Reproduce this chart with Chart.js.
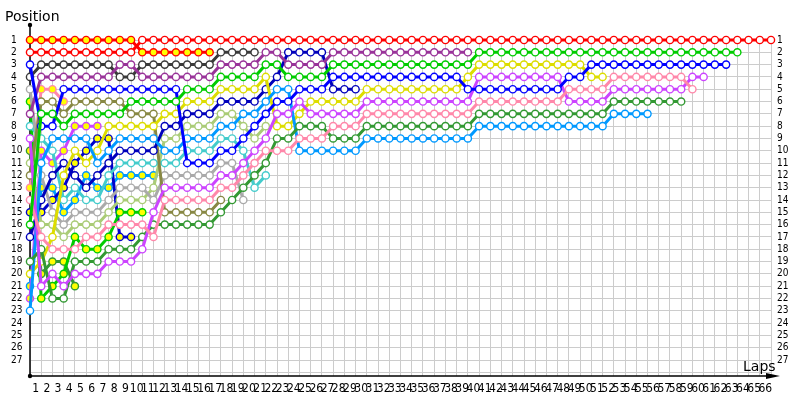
<!DOCTYPE html>
<html>
<head>
<meta charset="utf-8">
<script src="https://cdn.jsdelivr.net/npm/chart.js@4/dist/chart.umd.min.js"></script>
<style>
  html, body { margin: 0; padding: 0; background: #fff; }
  #wrap { width: 800px; height: 400px; }
</style>
</head>
<body>
<div id="wrap"><canvas id="lapChart" width="800" height="400"></canvas></div>
<script>
// ==============================
// Data: position per lap (index 0 = starting grid)
// ==============================

const lapLabels = [
    "1","2","3","4","5","6","7","8","9","10",
    "11","12","13","14","15","16","17","18","19","20",
    "21","22","23","24","25","26","27","28","29","30",
    "31","32","33","34","35","36","37","38","39","40",
    "41","42","43","44","45","46","47","48","49","50",
    "51","52","53","54","55","56","57","58","59","60",
    "61","62","63","64","65","66"
];

const positionLabels = [
    "1","2","3","4","5","6","7","8","9","10",
    "11","12","13","14","15","16","17","18","19","20",
    "21","22","23","24","25","26","27"
];

const red1 = [
    2,2,2,2,2,2,2,2,2,2,
    1,1,1,1,1,1,1,1,1,1,
    1,1,1,1,1,1,1,1,1,1,
    1,1,1,1,1,1,1,1,1,1,
    1,1,1,1,1,1,1,1,1,1,
    1,1,1,1,1,1,1,1,1,1,
    1,1,1,1,1,1,1
];
const red2 = [1,1,1,1,1,1,1,1,1,1, 2,2,2,2,2,2,2];

const darkGray = [4,3,3,3,3,3,3,3,4,4, 3,3,3,3,3,3,3,2,2,2, 2];

const purple = [
    7,4,4,4,4,4,4,4,3,3,
    4,4,4,4,4,4,4,3,3,3,
    3,2,2,3,3,3,3,2,2,2,
    2,2,2,2,2,2,2,2,2,2
];

const green1 = [
    16,7,7,8,7,7,7,7,7,6,
    6,6,6,6,5,5,5,4,4,4,
    4,3,3,4,4,4,4,3,3,3,
    3,3,3,3,3,3,3,3,3,3,
    2,2,2,2,2,2,2,2,2,2,
    2,2,2,2,2,2,2,2,2,2,
    2,2,2,2
];
const green2 = [6,22,21,20,17,18,18,17,15,15,15];

const blue1 = [
    3,8,8,5,5,5,5,5,5,5,
    5,5,5,5,11,11,11,10,10,9,
    8,7,6,6,5,5,5,4,4,4,
    4,4,4,4,4,4,4,4,4,5,
    5,5,5,5,5,5,5,5,4,4,
    3,3,3,3,3,3,3,3,3,3,
    3,3,3
];
const blue2 = [15,15,14,13,11,10,9,9,17,17];

const navy = [
    17,14,12,11,12,13,12,11,10,10,
    10,10,8,8,7,7,7,6,6,6,
    6,5,4,2,2,2,2,5,5,5
];

const yellow1 = [
    20,19,17,12,10,11,10,8,8,8,
    8,8,7,7,6,6,6,5,5,5,
    5,4,8,8,7,6,6,6,6,6,
    5,5,5,5,5,5,5,5,5,4,
    3,3,3,3,3,3,3,3,3,3,
    4,4
];

const magenta1 = [
    9,21,20,21,20,20,20,19,19,19,
    18,15,13,13,13,13,13,12,12,11,
    10,9,7,7,6,7,7,7,7,7,
    6,6,6,6,6,6,6,6,6,6,
    4,4,4,4,4,4,4,4,6,6,
    6,6,5,5,5,5,5,5,5,4,
    4
];
const magenta2 = [22,10,11,10,8,8,8];

const pink1 = [
    14,17,18,18,18,17,17,16,16,16,
    16,17,14,14,14,14,14,13,13,12,
    11,10,10,10,9,9,9,8,8,8,
    7,7,7,7,7,7,7,7,7,7,
    6,6,6,6,6,6,6,6,5,5,
    5,5,4,4,4,4,4,4,4,5
];
const pink2 = [13,5,5,6];

const darkGreen1 = [
    19,18,22,22,19,19,19,18,18,18,
    17,16,16,16,16,16,16,15,14,13,
    12,11,9,9,8,8,8,9,9,9,
    8,8,8,8,8,8,8,8,8,8,
    7,7,7,7,7,7,7,7,7,7,
    7,7,6,6,6,6,6,6,6
];
const darkGreen2 = [10,20,19,19,21];

const lightBlue1 = [
    23,11,9,9,9,9,11,10,9,9,
    9,9,10,10,9,9,9,8,8,7,
    7,6,5,5,10,10,10,10,10,10,
    9,9,9,9,9,9,9,9,9,9,
    8,8,8,8,8,8,8,8,8,8,
    8,8,7,7,7,7
];
const lightBlue2 = [21,13,13,15,14,12,13,13,12,12,12,12];

const olive = [12,6,6,7,6,6,6,6,6,7, 7,7,15,15,15,15,15,14];
const gray = [5,12,15,16,15,15,15,14,13,13, 13,14,12,12,12,12,12,11,11,14];
const cyan = [8,9,10,14,13,14,14,12,11,11, 11,11,11,11,10,10,10,9,9,10, 13,12];
const lightGreen = [11,16,16,17,16,16,16,15,14,14, 14,13,9,9,8,8,8,7,7,8, 9,8];

// ==============================
// Series styles
// ==============================

const drivers = [
    { pos: red1, color: "#ff0000", filled: false },
    { pos: red2, color: "#ff0000", filled: true },
    { pos: green1, color: "#00cc00", filled: false },
    { pos: blue1, color: "#0000ff", filled: false },
    { pos: pink1, color: "#ff88aa", filled: false },
    { pos: magenta1, color: "#cc44ff", filled: false },
    { pos: darkGreen1, color: "#339933", filled: false },
    { pos: lightBlue1, color: "#0099ff", filled: false },
    { pos: yellow1, color: "#dddd00", filled: false },
    { pos: purple, color: "#993399", filled: false },
    { pos: navy, color: "#0000bb", filled: false },
    { pos: darkGray, color: "#3a3a3a", filled: false },
    { pos: olive, color: "#888844", filled: false },
    { pos: gray, color: "#aaaaaa", filled: false },
    { pos: cyan, color: "#44cccc", filled: false },
    { pos: lightGreen, color: "#aacc77", filled: false },
    { pos: green2, color: "#00cc00", filled: true },
    { pos: blue2, color: "#0000cc", filled: true },
    { pos: darkGreen2, color: "#339933", filled: true },
    { pos: magenta2, color: "#cc44ff", filled: true },
    { pos: pink2, color: "#ff88aa", filled: true },
    { pos: lightBlue2, color: "#0099ff", filled: true }
];

const datasets = drivers.map(d => ({
    data: d.pos.map((p, lap) => ({ x: lap, y: p })),
    borderColor: d.color,
    backgroundColor: d.color,
    borderWidth: 3,
    pointRadius: 3.6,
    pointHoverRadius: 3.6,
    pointBorderWidth: 1.4,
    pointBorderColor: d.color,
    pointBackgroundColor: d.filled ? "#ffff00" : "#ffffff",
    tension: 0,
    clip: false
}));

// ==============================
// Axis lines, arrow and titles
// ==============================

const axisDecor = {
    id: "axisDecor",
    beforeDatasetsDraw(chart) {
        const { ctx, chartArea, scales } = chart;
        const x0 = scales.x.getPixelForValue(0);
        const yb = chartArea.bottom;

        ctx.save();
        ctx.strokeStyle = "#000";
        ctx.fillStyle = "#000";
        ctx.lineWidth = 1.5;

        ctx.beginPath();
        ctx.moveTo(x0, 25);
        ctx.lineTo(x0, yb);
        ctx.lineTo(770, yb);
        ctx.stroke();

        ctx.beginPath();
        ctx.moveTo(780, yb);
        ctx.lineTo(766, yb - 3);
        ctx.lineTo(766, yb + 3);
        ctx.closePath();
        ctx.fill();

        ctx.beginPath();
        ctx.arc(x0, 25, 2.2, 0, Math.PI * 2);
        ctx.fill();
        ctx.beginPath();
        ctx.arc(x0, yb, 2.2, 0, Math.PI * 2);
        ctx.fill();

        ctx.font = "14px 'DejaVu Sans'";
        ctx.textBaseline = "alphabetic";
        ctx.fillText("Position", 5, 21);
        ctx.fillText("Laps", 743, 371);
        ctx.restore();
    }
};

const tickFont = { family: "'Liberation Sans Narrow', 'DejaVu Sans Condensed', 'Liberation Sans', sans-serif", size: 12 };
const posFont = { family: "'Liberation Sans Narrow', 'DejaVu Sans Condensed', 'Liberation Sans', sans-serif", size: 10 };

new Chart(document.getElementById("lapChart"), {
    type: "line",
    data: { datasets: datasets },
    options: {
        responsive: false,
        animation: false,
        events: [],
        layout: { padding: { top: 40, left: 11, right: 0, bottom: 0 } },
        plugins: {
            legend: { display: false },
            tooltip: { enabled: false }
        },
        scales: {
            x: {
                type: "linear",
                min: 0,
                max: 66,
                afterFit: s => { s.height = 24; },
                border: { display: false },
                grid: { color: "#cccccc", drawTicks: false },
                ticks: {
                    stepSize: 1,
                    autoSkip: false,
                    maxRotation: 0,
                    minRotation: 0,
                    labelOffset: 5.6,
                    padding: 6,
                    color: "#000",
                    font: tickFont,
                    callback: v => lapLabels[v] ?? ""
                }
            },
            y: {
                type: "linear",
                position: "left",
                reverse: true,
                min: 1,
                max: 28.3,
                afterFit: s => { s.width = 19; },
                border: { display: false },
                grid: { color: "#cccccc", drawTicks: false },
                ticks: {
                    stepSize: 1,
                    autoSkip: false,
                    includeBounds: false,
                    crossAlign: "far",
                    padding: 0,
                    color: "#000",
                    font: posFont,
                    callback: v => positionLabels[v - 1] ?? ""
                }
            },
            y2: {
                type: "linear",
                position: "right",
                reverse: true,
                min: 1,
                max: 28.3,
                afterFit: s => { s.width = 29; },
                border: { display: false },
                grid: { display: false, drawTicks: false },
                ticks: {
                    stepSize: 1,
                    autoSkip: false,
                    includeBounds: false,
                    padding: 6,
                    color: "#000",
                    font: posFont,
                    callback: v => positionLabels[v - 1] ?? ""
                }
            }
        }
    },
    plugins: [axisDecor]
});
</script>
</body>
</html>
